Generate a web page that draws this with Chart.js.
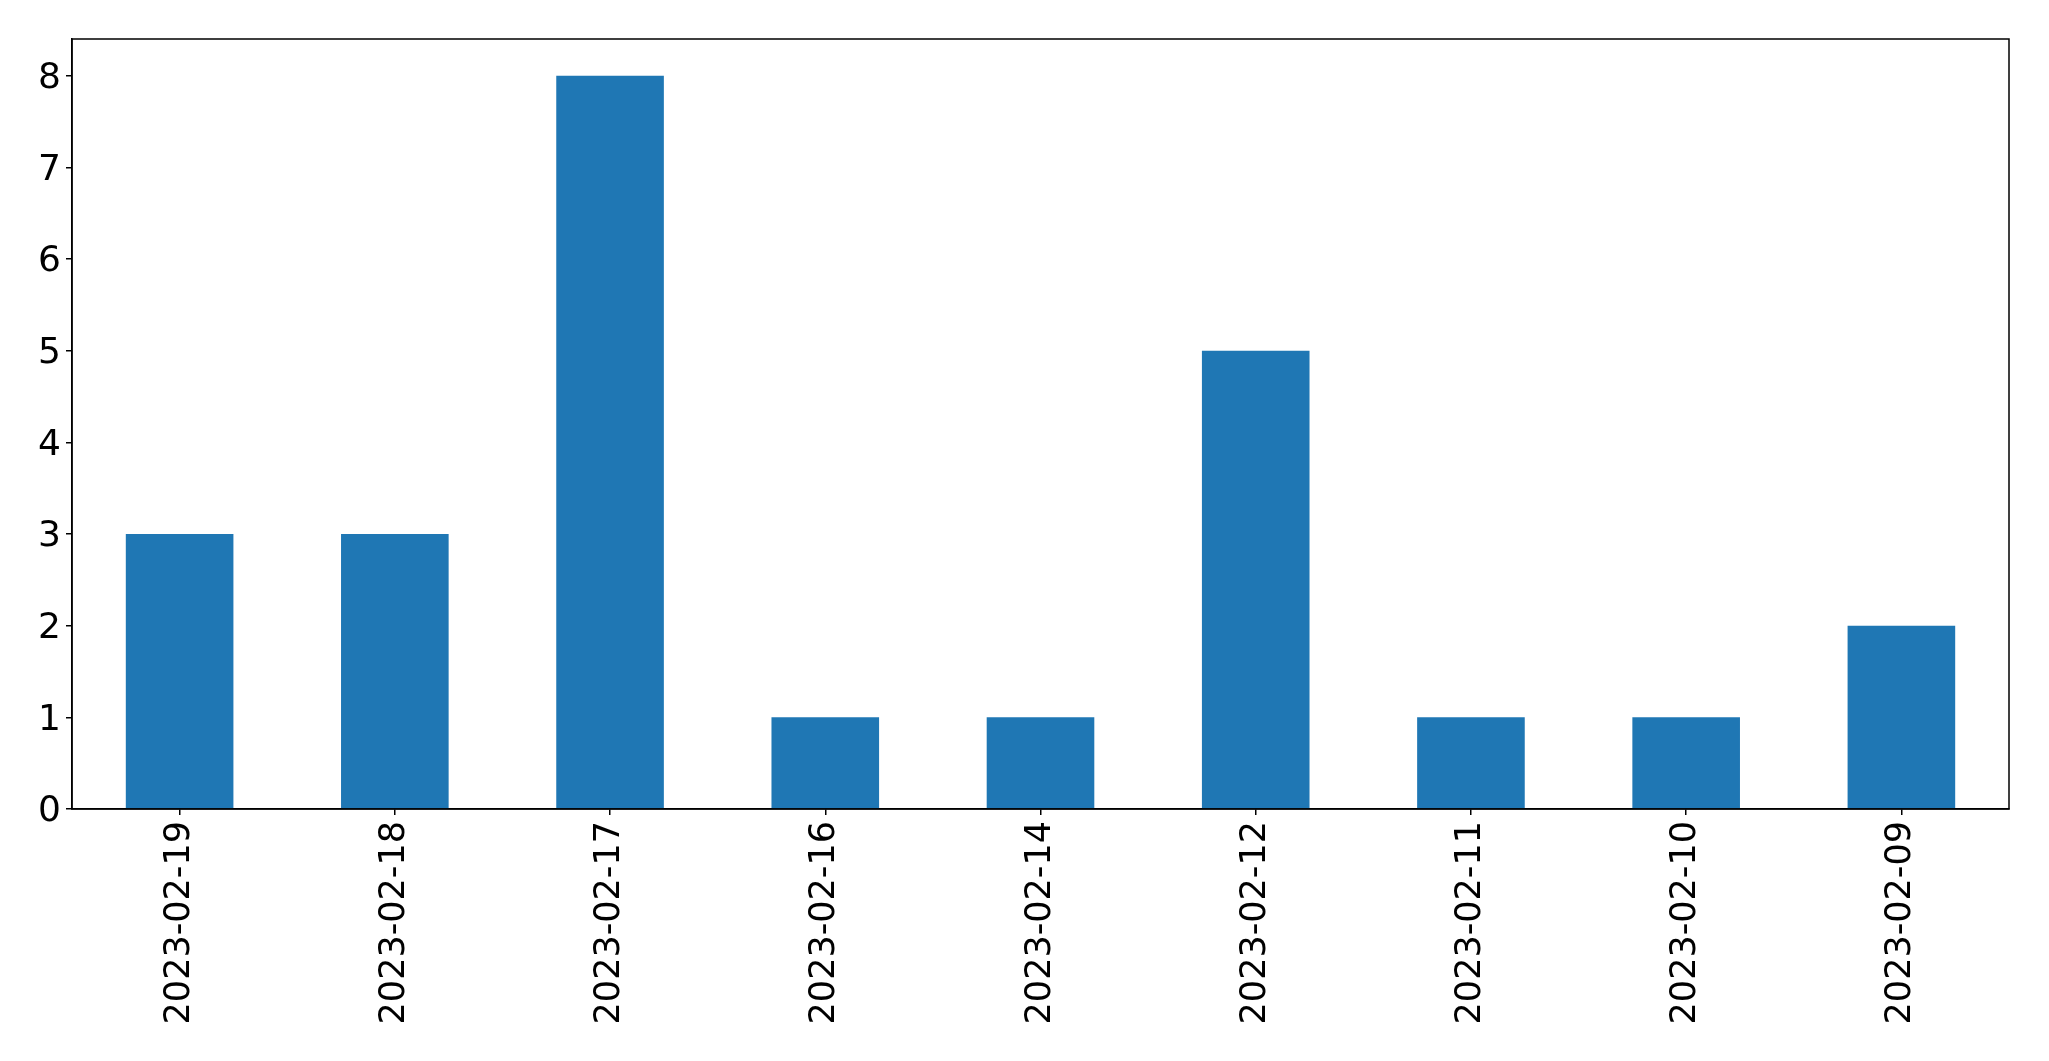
<!DOCTYPE html>
<html>
<head>
<meta charset="utf-8">
<script src="https://cdn.jsdelivr.net/npm/chart.js@4.4.0/dist/chart.umd.min.js"></script>
<style>
html,body{margin:0;padding:0;background:#fff;}
#wrap{width:2049px;height:1061px;}
</style>
</head>
<body>
<div id="wrap"><canvas id="c" width="2049" height="1061"></canvas></div>
<script>
const categories = ["2023-02-19","2023-02-18","2023-02-17","2023-02-16","2023-02-14","2023-02-12","2023-02-11","2023-02-10","2023-02-09"];
const values = [3,3,8,1,1,5,1,1,2];
const yMin = 0, yMax = 8.4, yStep = 1;

const framePlugin = {
  id: 'frame',
  afterDraw(chart) {
    const a = chart.chartArea, ctx = chart.ctx;
    ctx.save();
    ctx.strokeStyle = '#000';
    ctx.lineWidth = 1.5;
    ctx.strokeRect(a.left, a.top, a.right - a.left, a.bottom - a.top);
    ctx.restore();
  }
};

const font = {family: 'DejaVu Sans', size: 35};

new Chart(document.getElementById('c'), {
  type: 'bar',
  data: {
    labels: categories,
    datasets: [{
      data: values,
      backgroundColor: '#1f77b4',
      borderWidth: 0,
      categoryPercentage: 1.0,
      barPercentage: 0.5
    }]
  },
  options: {
    responsive: false,
    animation: false,
    layout: {padding: {top: 39, right: 40, left: 0, bottom: 0}},
    plugins: {legend: {display: false}, tooltip: {enabled: false}},
    scales: {
      x: {
        offset: true,
        grid: {display: true, drawOnChartArea: false, drawTicks: true, tickLength: 6, color: '#000', lineWidth: 1.5, offset: false},
        border: {display: true, color: '#000', width: 1.5},
        ticks: {autoSkip: false, maxRotation: 90, minRotation: 90, color: '#000', font: font, padding: 6},
        afterFit(s) { s.height = 252; }
      },
      y: {
        min: yMin, max: yMax,
        grid: {display: true, drawOnChartArea: false, drawTicks: true, tickLength: 6, color: '#000', lineWidth: 1.5},
        border: {display: true, color: '#000', width: 1.5},
        ticks: {stepSize: yStep, includeBounds: false, color: '#000', font: {family: 'DejaVu Sans', size: 36}, padding: 5, labelOffset: 3},
        afterFit(s) { s.width = 72; }
      }
    }
  },
  plugins: [framePlugin]
});
</script>
</body>
</html>
